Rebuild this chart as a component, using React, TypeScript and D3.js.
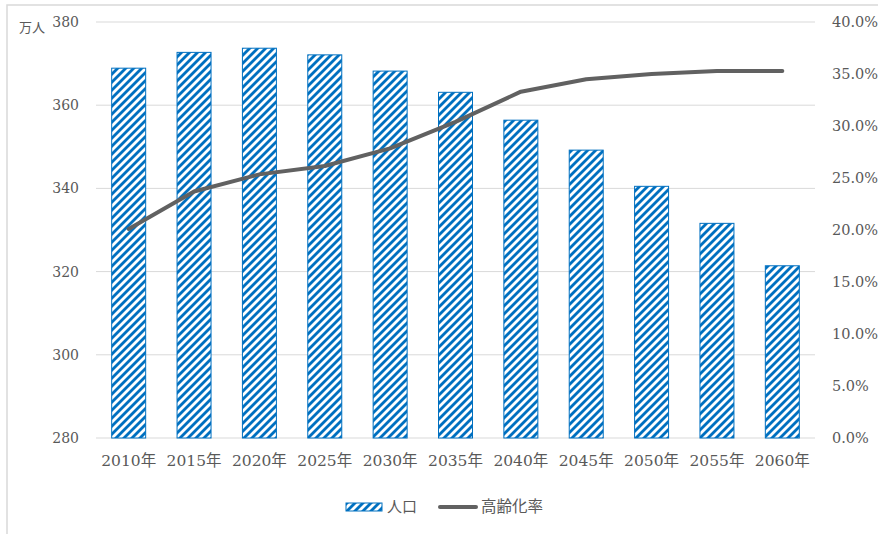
import React from "react";
import * as d3 from "d3";

const categories = ["2010年", "2015年", "2020年", "2025年", "2030年", "2035年", "2040年", "2045年", "2050年", "2055年", "2060年"];
const population = [368.9, 372.7, 373.7, 372.1, 368.2, 363.1, 356.4, 349.2, 340.5, 331.6, 321.4];
const agingRate = [20.1, 23.7, 25.35, 26.15, 27.85, 30.4, 33.3, 34.5, 35.0, 35.3, 35.3];
const leftTicks = [280, 300, 320, 340, 360, 380];
const rightTicks = [0, 5, 10, 15, 20, 25, 30, 35, 40];

const W = 878;
const H = 534;
const plot = { left: 96, right: 815, top: 22, bottom: 438 };
const BLUE = "#0070C0";
const TEXT = "#595959";
const GRID = "#d9d9d9";
const serif = "'DejaVu Serif', 'Liberation Serif', 'Noto Sans CJK JP', serif";
const sans = "'Noto Sans CJK JP', 'Noto Sans', sans-serif";

export default function App() {
  const x = d3.scaleBand<string>().domain(categories).range([plot.left, plot.right]).paddingInner(0.48).paddingOuter(0.24);
  const yL = d3.scaleLinear().domain([280, 380]).range([plot.bottom, plot.top]);
  const yR = d3.scaleLinear().domain([0, 40]).range([plot.bottom, plot.top]);
  const line = d3
    .line<number>()
    .x((_, i) => (x(categories[i]) as number) + x.bandwidth() / 2)
    .y((d) => yR(d));

  return (
    <svg width={W} height={H} style={{ position: "absolute", left: 0, top: 0, background: "#fff" }}>
      <defs>
        <pattern id="wdUpDiag" patternUnits="userSpaceOnUse" width={8} height={8}>
          <rect width={8} height={8} fill="#fff" />
          <path d="M0,0 L4,0 L0,4 Z M8,0 L8,4 L4,8 L0,8 Z" fill={BLUE} />
        </pattern>
      </defs>
      <rect x={7} y={5} width={W + 10} height={H + 10} fill="none" stroke={GRID} strokeWidth={1.5} />

      {leftTicks.map((t) => (
        <line key={"g" + t} x1={plot.left} x2={plot.right} y1={yL(t)} y2={yL(t)} stroke={GRID} strokeWidth={1} />
      ))}

      {categories.map((c, i) => (
        <rect
          key={c}
          x={x(c)}
          y={yL(population[i])}
          width={x.bandwidth()}
          height={yL(280) - yL(population[i])}
          fill="url(#wdUpDiag)"
          stroke={BLUE}
          strokeWidth={1}
        />
      ))}

      <path d={line(agingRate) || ""} fill="none" stroke="#616161" strokeWidth={4} strokeLinecap="round" strokeLinejoin="round" />

      {leftTicks.map((t) => (
        <text key={"l" + t} x={79} y={yL(t)} dy="0.35em" textAnchor="end" fontFamily={serif} fontSize={14} fill={TEXT}>
          {t}
        </text>
      ))}
      {rightTicks.map((t) => (
        <text key={"r" + t} x={832} y={yR(t)} dy="0.35em" textAnchor="start" fontFamily={serif} fontSize={14.5} fill={TEXT}>
          {t.toFixed(1) + "%"}
        </text>
      ))}
      {categories.map((c) => (
        <text key={"x" + c} x={(x(c) as number) + x.bandwidth() / 2} y={461} dy="0.35em" textAnchor="middle" fontFamily={serif} fontSize={15.5} fill={TEXT}>
          {c}
        </text>
      ))}
      <text x={19} y={27} dy="0.35em" fontFamily={sans} fontSize={13} fill={TEXT}>
        万人
      </text>

      <rect x={346} y={503} width={36} height={8} fill="url(#wdUpDiag)" stroke={BLUE} strokeWidth={1} />
      <text x={387} y={507} dy="0.35em" fontFamily={sans} fontSize={15} fill={TEXT}>
        人口
      </text>
      <line x1={440} x2={476} y1={507} y2={507} stroke="#616161" strokeWidth={4} strokeLinecap="round" />
      <text x={481} y={507} dy="0.35em" fontFamily={sans} fontSize={15.5} fill={TEXT}>
        高齢化率
      </text>
    </svg>
  );
}
